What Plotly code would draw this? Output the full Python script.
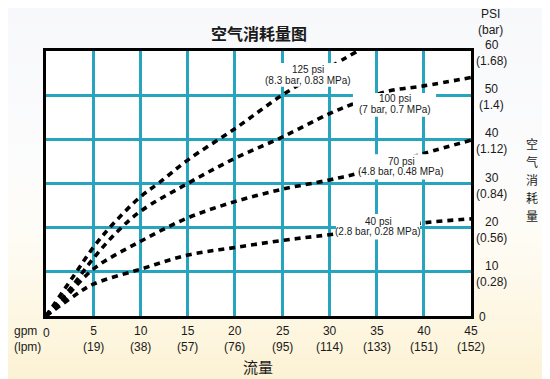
import plotly.graph_objects as go

# ---------------- data ----------------
gpm_ticks = [0, 5, 10, 15, 20, 25, 30, 35, 40, 45]
gpm_labels = ["0", "5", "10", "15", "20", "25", "30", "35", "40", "45"]
lpm_labels = ["", "(19)", "(38)", "(57)", "(76)", "(95)", "(114)", "(133)", "(151)", "(152)"]
psi_ticks = [0, 10, 20, 30, 40, 50, 60]
psi_labels = ["0", "10", "20", "30", "40", "50", "60"]
bar_labels = ["", "(0.28)", "(0.56)", "(0.84)", "(1.12)", "(1.4)", "(1.68)"]

flow_125 = [0, 3, 5, 7, 10, 12, 15, 20, 25, 30, 33]
air_125 = [0, 9.3, 15.5, 20.6, 27, 30.2, 35.3, 42.4, 50, 56.3, 60]
flow_100 = [0, 2.5, 5, 7.5, 10, 15, 20, 25, 30, 32.5, 36, 40, 45]
air_100 = [0, 6, 13, 19, 23.7, 30, 35.7, 40.5, 45.8, 48, 50.8, 52.1, 54]
flow_70 = [0, 1.6, 5, 10, 15, 20, 25, 30, 33, 40, 45]
air_70 = [0, 3.1, 10.6, 16.9, 22.2, 25.9, 28.7, 30.8, 32.3, 36.8, 39.8]
flow_40 = [0, 3, 5, 10, 15, 20, 25, 30, 40, 45]
air_40 = [0, 4.6, 7.2, 10.6, 13.8, 15.5, 17.1, 18.4, 21.1, 22]

curve_names = ["125 psi", "100 psi", "70 psi", "40 psi"]
curve_sub = ["(8.3 bar, 0.83 MPa)", "(7 bar, 0.7 MPa)", "(4.8 bar, 0.48 MPa)", "(2.8 bar, 0.28 MPa)"]

title_text = "空气消耗量图"
x_title = "流量"
y_title = "空气消耗量"

# ---------------- style ----------------
SANS = "Liberation Sans, Arial, sans-serif"
CJK = "Noto Sans CJK SC, sans-serif"
TXT = "#1a1a1a"
GRID = "#27a5be"
TICK_SIZE = 12

OFF = 8  # page body margin: figure is drawn 8px right/down in the window
W, H = 550, 379
# target plot area on screen: x 46..471, y 51..316
ML, MT = 46 - OFF, 51 - OFF
MR = W - (471 - OFF)
MB = H - (316 - OFF)
PW, PH = W - ML - MR, H - MT - MB


def sx(px):
    """screen px -> paper x"""
    return (px - OFF - ML) / PW


def sy(py):
    """screen px -> paper y"""
    return (H - MB - (py - OFF)) / PH


fig = go.Figure()

series = [(flow_125, air_125), (flow_100, air_100), (flow_70, air_70), (flow_40, air_40)]
for (xs, ys), nm in zip(series, curve_names):
    fig.add_trace(go.Scatter(
        x=xs, y=ys, mode="lines", name=nm, showlegend=False,
        line=dict(color="black", width=3.6, dash="6px,5px", shape="spline", smoothing=1.0),
        hoverinfo="skip",
    ))

shapes = []
stops = [(0, (247, 248, 251)), (170, (252, 252, 252)), (235, (254, 252, 246)), (379, (252, 242, 212))]


def col_at(py):
    for (a, ca), (b, cb) in zip(stops[:-1], stops[1:]):
        if a <= py <= b:
            t = (py - a) / (b - a)
            return "rgb(%d,%d,%d)" % tuple(round(ca[i] + (cb[i] - ca[i]) * t) for i in range(3))
    return "rgb(%d,%d,%d)" % stops[-1][1]


n = 48
for i in range(n):
    y0p = (H + OFF) * i / n
    y1p = (H + OFF) * (i + 1) / n
    shapes.append(dict(type="rect", xref="paper", yref="paper", layer="below",
                       x0=sx(-5), x1=sx(W + 20),
                       y0=sy(y1p + 0.5), y1=sy(y0p - 0.5),
                       fillcolor=col_at((y0p + y1p) / 2), line=dict(width=0)))
shapes.append(dict(type="rect", xref="paper", yref="paper", layer="below",
                   x0=0, x1=1, y0=0, y1=1, fillcolor="white", line=dict(width=0)))

# white boxes behind curve labels (hide grid and curve)
boxes = [(23.3, 32.0, 51.9, 57.3), (32.5, 41.3, 45.1, 50.5), (33.2, 41.9, 30.9, 36.6), (30.7, 39.6, 17.3, 23.1)]
for x0, x1, y0, y1 in boxes:
    shapes.append(dict(type="rect", xref="x", yref="y", layer="above",
                       x0=x0, x1=x1, y0=y0, y1=y1, fillcolor="white", line=dict(width=0)))

ann = []


def add(text, x, y, xref, yref, size, family=SANS, xanchor="center", yanchor="middle",
        yshift=0, align="center", borderpad=1):
    ann.append(dict(x=x, y=y, xref=xref, yref=yref, text=text, showarrow=False,
                    xanchor=xanchor, yanchor=yanchor, yshift=yshift, align=align,
                    borderpad=borderpad, font=dict(family=family, size=size, color=TXT)))


# curve labels
label_pos = [(27.7, 55.9, 53.4), (36.9, 49.2, 46.7), (37.6, 35.0, 32.8), (35.2, 21.5, 19.1)]
for (lx, ly1, ly2), nm, sub in zip(label_pos, curve_names, curve_sub):
    add(nm, lx, ly1, "x", "y", 10)
    add(sub, lx, ly2, "x", "y", 10)

# x tick labels (two lines)
for v, g, l in zip(gpm_ticks, gpm_labels, lpm_labels):
    if l:
        add(g + "<br>" + l, v, 0, "x", "paper", TICK_SIZE, yshift=-22.5)
    else:
        add(g, v, 0, "x", "paper", TICK_SIZE, yshift=-16.5)
add("gpm<br>(lpm)", sx(12), 0, "paper", "paper", TICK_SIZE, xanchor="left", yshift=-22.5, align="left")

# right y tick labels (two lines)
for v, p, b in zip(psi_ticks, psi_labels, bar_labels):
    if b:
        add(p + "<br>" + b, sx(491), v, "paper", "y", TICK_SIZE, yshift=-2)
    else:
        add(p, sx(477), v, "paper", "y", TICK_SIZE, xanchor="left", yshift=-1)
add("PSI<br>(bar)", sx(490), sy(22), "paper", "paper", TICK_SIZE)

# titles
add("<b>" + title_text + "</b>", sx(259), sy(33), "paper", "paper", 16, family=CJK)
add(x_title, sx(258), sy(366.5), "paper", "paper", 15, family=CJK)
for i, ch in enumerate(y_title):
    add(ch, sx(532), sy(143 + 18 * i), "paper", "paper", 12, family=CJK, borderpad=0)

fig.update_layout(
    width=W, height=H,
    margin=dict(l=ML, r=MR, t=MT, b=MB, pad=0),
    paper_bgcolor="white", plot_bgcolor="white",
    shapes=shapes, annotations=ann,
    xaxis=dict(range=[0, 45], tickvals=gpm_ticks, showticklabels=False, ticks="",
               showgrid=True, gridcolor=GRID, gridwidth=3, zeroline=False,
               showline=True, linecolor="black", linewidth=3, mirror=True, fixedrange=True),
    yaxis=dict(range=[0, 60], tickvals=psi_ticks, showticklabels=False, ticks="", side="right",
               showgrid=True, gridcolor=GRID, gridwidth=3, zeroline=False,
               showline=True, linecolor="black", linewidth=3, mirror=True, fixedrange=True),
)

fig.write_html("out.html")
